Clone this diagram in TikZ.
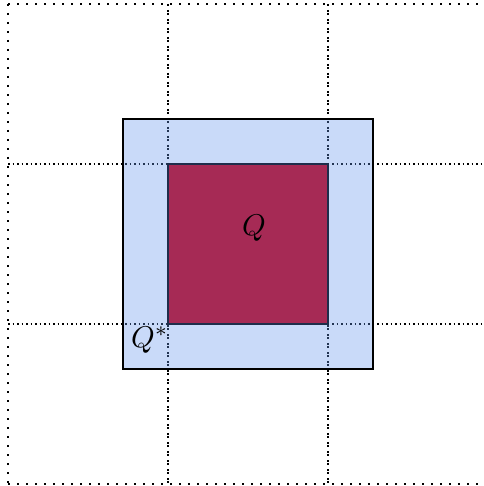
\documentclass[tikz,border=0pt]{standalone}
\begin{document}
\begin{tikzpicture}[x=1pt,y=-1pt,
  gridline/.style={line width=1.9pt,dash pattern=on 1.9pt off 7.1pt},
  qstar/.style={draw=black,line width=1.6pt,fill={rgb,255:red,100;green,149;blue,237},fill opacity=0.35},
  qbox/.style={draw={rgb,255:red,30;green,45;blue,75},line width=1.6pt,fill={rgb,255:red,166;green,42;blue,85}},
  lab/.style={inner sep=0pt}]
\useasboundingbox (0,0) rectangle (483,486);
\begin{scope}
\clip (0,0) rectangle (483,486);
% outer grid lines
\draw[gridline] (8,4) -- (488,4);
\draw[gridline] (8,484) -- (488,484);
\draw[gridline] (8,4) -- (8,484);
% interior grid lines (drawn twice, as shared cell edges)
\foreach \v in {168,328}{
  \draw[gridline] (\v,4) -- (\v,484);
  \draw[gridline,dash phase=3pt] (\v,4) -- (\v,484);
}
\foreach \h in {164,324}{
  \draw[gridline] (8,\h) -- (488,\h);
  \draw[gridline,dash phase=4.5pt] (8,\h) -- (488,\h);
}
\end{scope}
\path[qstar] (123,119) rectangle (373,369);
\path[qbox] (168,164) rectangle (328,324);
\node[lab] (q) at (254,228) {\scalebox{3}{$Q$}};
\node[lab] (qs) at (150,340) {\scalebox{3}{$Q^*$}};
\end{tikzpicture}
\end{document}
